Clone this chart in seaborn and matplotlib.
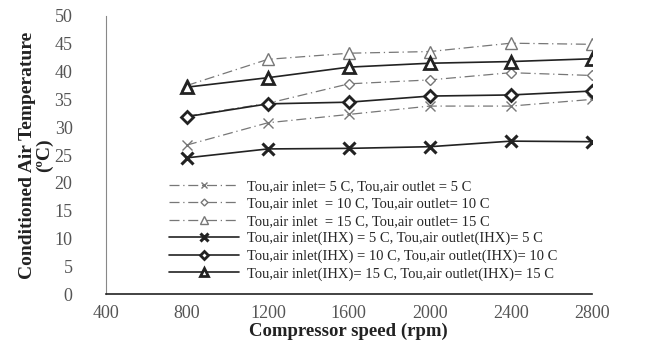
import pandas as pd
import seaborn as sns
import matplotlib.pyplot as plt

speed = [800, 1200, 1600, 2000, 2400, 2800]

t5 = [26.8, 30.8, 32.3, 33.8, 33.8, 35.0]
t10 = [32.0, 34.3, 37.8, 38.5, 39.8, 39.3]
t15 = [37.5, 42.2, 43.3, 43.6, 45.1, 44.9]
t5_ihx = [24.5, 26.1, 26.2, 26.5, 27.5, 27.4]
t10_ihx = [31.9, 34.2, 34.5, 35.6, 35.8, 36.5]
t15_ihx = [37.2, 38.9, 40.8, 41.5, 41.8, 42.3]

labels = [
    "Tou,air inlet= 5 C, Tou,air outlet = 5 C",
    "Tou,air inlet  = 10 C, Tou,air outlet= 10 C",
    "Tou,air inlet  = 15 C, Tou,air outlet= 15 C",
    "Tou,air inlet(IHX) = 5 C, Tou,air outlet(IHX)= 5 C",
    "Tou,air inlet(IHX) = 10 C, Tou,air outlet(IHX)= 10 C",
    "Tou,air inlet(IHX)= 15 C, Tou,air outlet(IHX)= 15 C",
]
series = [t5, t10, t15, t5_ihx, t10_ihx, t15_ihx]

sns.set_style("white")
plt.rcParams['font.family'] = ['Liberation Serif', 'DejaVu Serif']

fig = plt.figure(figsize=(6.46, 3.54), dpi=100)
ax = fig.add_axes([0.164, 0.169, 0.752, 0.786])

dash = (0, (8, 3, 1, 3))
styles = [
    dict(color='#777777', ls=dash, lw=0.9, marker='x', ms=7, mew=1.0, mfc='none'),
    dict(color='#777777', ls=dash, lw=0.9, marker='D', ms=5, mew=1.0, mfc='white'),
    dict(color='#777777', ls=dash, lw=0.9, marker='^', ms=8, mew=1.0, mfc='white'),
    dict(color='#222222', ls='-', lw=1.2, marker='x', ms=8, mew=2.2, mfc='none'),
    dict(color='#222222', ls='-', lw=1.2, marker='D', ms=6, mew=2.0, mfc='white'),
    dict(color='#222222', ls='-', lw=1.2, marker='^', ms=9, mew=2.0, mfc='white'),
]

for vals, lab, st in zip(series, labels, styles):
    df = pd.DataFrame({'speed': speed, 'temp': vals})
    sns.lineplot(data=df, x='speed', y='temp', ax=ax, label=lab,
                 color=st['color'], linestyle=st['ls'], linewidth=st['lw'],
                 marker=st['marker'], markersize=st['ms'], markeredgewidth=st['mew'],
                 markerfacecolor=st['mfc'], markeredgecolor=st['color'])

ax.set_xlim(400, 2800)
ax.set_ylim(0, 50)
ax.set_xticks(range(400, 2801, 400))
ax.set_yticks(range(0, 51, 5))
ax.tick_params(axis='x', direction='out', length=4, color='#444444', labelsize=13,
               labelcolor='#555555', pad=4)
ax.tick_params(axis='y', length=0, labelsize=13, labelcolor='#555555', pad=24)
for s in ['top', 'right']:
    ax.spines[s].set_visible(False)
ax.spines['left'].set_color('#888888')
ax.spines['bottom'].set_color('#222222')
ax.spines['bottom'].set_linewidth(1.2)

ax.set_xlabel("Compressor speed (rpm)", fontsize=13.5, fontweight='bold', color='#222222', labelpad=0)
ax.set_ylabel("Conditioned Air Temperature\n(ºC)", fontsize=14, fontweight='bold', color='#222222',
              labelpad=1, linespacing=1.0)

leg = ax.legend(loc='upper left', bbox_to_anchor=(0.13, 0.41), frameon=False, fontsize=10.5,
                handlelength=4.8, borderpad=0, borderaxespad=0, labelspacing=0.28,
                handletextpad=0.55, markerscale=0.7)

fig.savefig('out.png', dpi=100)
